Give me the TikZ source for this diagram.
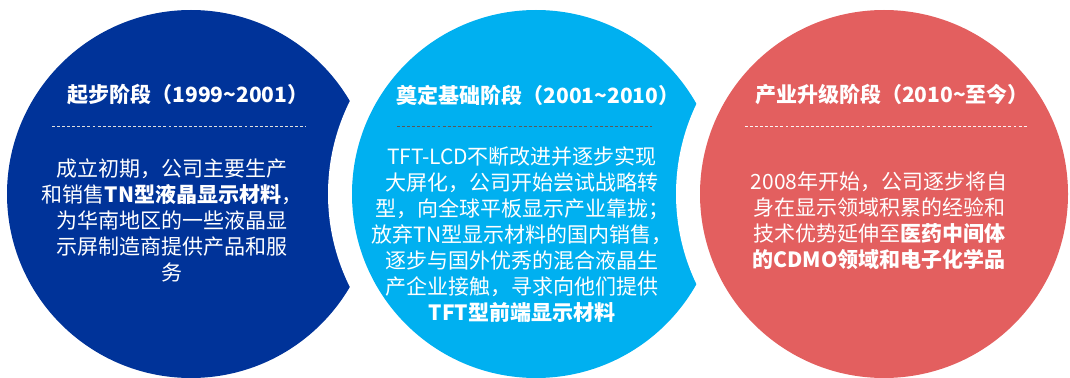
\documentclass[tikz,border=0pt]{standalone}
\usepackage{fontspec}
\setmainfont{Noto Sans CJK SC}
\newfontfamily\cjk{Noto Sans CJK SC}
\definecolor{cdark}{HTML}{003399}
\definecolor{clight}{HTML}{00B0F0}
\definecolor{cred}{HTML}{E35F5F}
\tikzset{
  disc/.style={fill=#1},
  halo/.style={fill=white},
  ttl/.style={text=white,font=\cjk\bfseries\fontsize{15.75}{19.5}\selectfont,inner sep=0pt},
  body/.style={text=white,font=\cjk\fontsize{15.75}{19.5}\selectfont,align=center,inner sep=0pt},
  sep/.style={dashed,line width=0.6pt,dash pattern=on 2.2pt off 1.6pt}
}
\begin{document}
\begin{tikzpicture}[x=0.75pt,y=-0.75pt]
\clip (0,0) rectangle (1070,378);
\fill[white] (0,0) rectangle (1070,378);
% circles
\fill[disc=cdark] (191,194) circle [radius=138pt];
\fill[halo] (536,194) circle [radius=156pt];
\fill[disc=clight] (536,194) circle [radius=138pt];
\fill[halo] (884,194) circle [radius=156pt];
\fill[disc=cred] (884,194) circle [radius=138pt];
% titles
\node[ttl] (t1) at (188,95) {起步阶段（1999\textasciitilde 2001）};
\node[ttl] (t2) at (538,95) {奠定基础阶段（2001\textasciitilde 2010）};
\node[ttl] (t3) at (892,95) {产业升级阶段（2010\textasciitilde 至今）};
% separators
\coordinate (s1a) at (52,126); \coordinate (s1b) at (306,126);
\coordinate (s2a) at (397,126); \coordinate (s2b) at (652,126);
\coordinate (s3a) at (745,126); \coordinate (s3b) at (1028,126);
\draw[sep,color=white!75!gray] (s1a) -- (s1b);
\draw[sep,color=black!65] (s2a) -- (s2b);
\draw[sep,color=white!92!cred] (s3a) -- (s3b);
% bodies
\node[body] (b1) at (172,220) {成立初期，公司主要生产\\和销售\textbf{TN型液晶显示材料}，\\为华南地区的一些液晶显\\示屏制造商提供产品和服\\务};
\node[body] (b2) at (522,235) {TFT-LCD不断改进并逐步实现\\大屏化，公司开始尝试战略转\\型，向全球平板显示产业靠拢；\\放弃TN型显示材料的国内销售，\\逐步与国外优秀的混合液晶生\\产企业接触，寻求向他们提供\\\textbf{TFT型前端显示材料}};
\node[body] (b3) at (879,221) {2008年开始，公司逐步将自\\身在显示领域积累的经验和\\技术优势延伸至\textbf{医药中间体}\\\textbf{的CDMO领域和电子化学品}};
\end{tikzpicture}
\end{document}
